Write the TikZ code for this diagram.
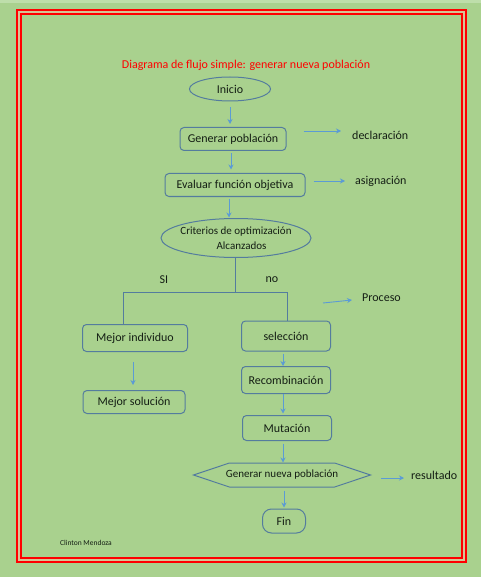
\documentclass[tikz,border=0pt]{standalone}
\usepackage{fontspec}
\setmainfont{Carlito}
\usetikzlibrary{arrows.meta,shapes.geometric,shapes.symbols}
\definecolor{bgcol}{RGB}{169,209,142}
\definecolor{topcol}{RGB}{190,222,170}
\definecolor{framecol}{RGB}{255,0,0}
\definecolor{gapcol}{RGB}{214,196,150}
\definecolor{boxcol}{RGB}{84,124,158}
\definecolor{arrcol}{RGB}{91,155,213}
\definecolor{txtcol}{RGB}{20,30,20}
\tikzset{every picture/.style={x=1pt,y=-1pt}}
\tikzset{every node/.style={text=txtcol,font=\fontsize{12}{15}\selectfont}}
\tikzset{box/.style={draw=boxcol,line width=1pt,rounded corners=4pt,inner sep=0pt}}
\tikzset{oval/.style={ellipse,draw=boxcol,line width=1pt,inner sep=0pt}}
\tikzset{flow/.style={arrcol,line width=0.9pt,-{Stealth[length=5pt,width=5pt]}}}
\tikzset{branch/.style={boxcol,line width=1pt}}
\tikzset{lbl/.style={inner sep=0pt,anchor=west}}

\begin{document}
\begin{tikzpicture}
\fill [bgcol] (0,0) rectangle (481,577);
\fill [topcol] (0,0) rectangle (481,3);
\draw [gapcol,line width=1.2pt] (19,12) rectangle (464,560);
\draw [framecol,line width=2.6pt] (17,10) rectangle (466,562);
\draw [framecol,line width=1.6pt] (21,14) rectangle (462,558);

\node [text=framecol] (title) at (246,65) {Diagrama de flujo simple: generar nueva población};

\node [oval,minimum width=81,minimum height=24] (inicio) at (230,89) {Inicio};
\node [box,minimum width=106,minimum height=23] (gen) at (233,139) {Generar población};
\node [box,minimum width=140,minimum height=23] (eval) at (235,185) {Evaluar función objetiva};
\node [oval,font=\fontsize{11}{14.5}\selectfont,inner xsep=-16pt,inner ysep=-3pt,minimum width=150,minimum height=39,align=center] (crit) at (236,238) {Criterios de optimización\\\quad Alcanzados};

\node [box,minimum width=105,minimum height=27] (mejor) at (135,338) {Mejor individuo};
\node [box,minimum width=102,minimum height=23] (sol) at (134,402) {Mejor solución};

\node [box,minimum width=89,minimum height=30] (sel) at (286,336) {selección};
\node [box,minimum width=89,minimum height=27] (recomb) at (286,380) {Recombinación};
\node [box,minimum width=89,minimum height=25] (mut) at (287,428) {Mutación};
\node [signal,signal to=east and west,signal pointer angle=37,draw=boxcol,line width=1pt,font=\fontsize{11}{13}\selectfont,inner xsep=-12pt,inner ysep=0pt,minimum width=177,minimum height=24] (nueva) at (282,475) {Generar nueva población};
\node [box,rounded corners=9pt,minimum width=43,minimum height=24] (fin) at (284,521) {Fin};

\node [lbl] (decl) at (352,135) {declaración};
\node [lbl] (asig) at (355,181) {asignación};
\node [lbl] (proceso) at (362,298) {Proceso};
\node [lbl] (result) at (411,475) {resultado};
\node (si) at (164,280) {SI};
\node (no) at (272,280) {no};
\node [font=\fontsize{7.5}{9}\selectfont] (autor) at (86,543) {Clinton Mendoza};

\coordinate (split) at (235,292);
\coordinate (pstart) at (323,303);

\draw [flow,shorten <=6pt,shorten >=3pt] (inicio.south) -- (inicio.south |- gen.north);
\draw [flow,shorten <=2.5pt,shorten >=3.5pt] ([xshift=-2pt]gen.south) -- ([xshift=-2pt]gen.south |- eval.north);
\draw [flow,shorten <=1.5pt,shorten >=0.5pt] ([xshift=-6pt]eval.south) -- ([xshift=-6pt]eval.south |- crit.north);

\draw [flow] ([xshift=17pt,yshift=8pt]gen.east) -- ([xshift=-11pt,yshift=4pt]decl.west);
\draw [flow] ([xshift=8pt,yshift=4pt]eval.east) -- ([xshift=-10pt]asig.west);

\draw [branch] ([xshift=-1pt]crit.south) -- (split) -| ([xshift=-12pt]mejor.north);
\draw [branch] (split) -| ([xshift=1pt]sel.north);

\draw [flow] (pstart) -- ([xshift=-10pt,yshift=-2pt]proceso.west);

\draw [flow,shorten <=10pt,shorten >=5pt] ([xshift=-2pt]mejor.south) -- ([xshift=-2pt]mejor.south |- sol.north);

\draw [flow,shorten <=2pt,shorten >=0pt] ([xshift=-3pt]sel.south) -- ([xshift=-3pt]sel.south |- recomb.north);
\draw [flow,shorten <=0pt,shorten >=1.5pt] ([xshift=-3pt]recomb.south) -- ([xshift=-3pt]recomb.south |- mut.north);
\draw [flow,shorten <=2.5pt,shorten >=0pt] ([xshift=-4pt]mut.south) -- ([xshift=-4pt]mut.south |- nueva.north);
\draw [flow,shorten <=3pt,shorten >=1pt] ([xshift=2pt]nueva.south) -- ([xshift=2pt]nueva.south |- fin.north);
\draw [flow] ([xshift=9pt,yshift=-3pt]nueva.east) -- ([xshift=-7pt,yshift=-3pt]result.west);
\end{tikzpicture}
\end{document}
